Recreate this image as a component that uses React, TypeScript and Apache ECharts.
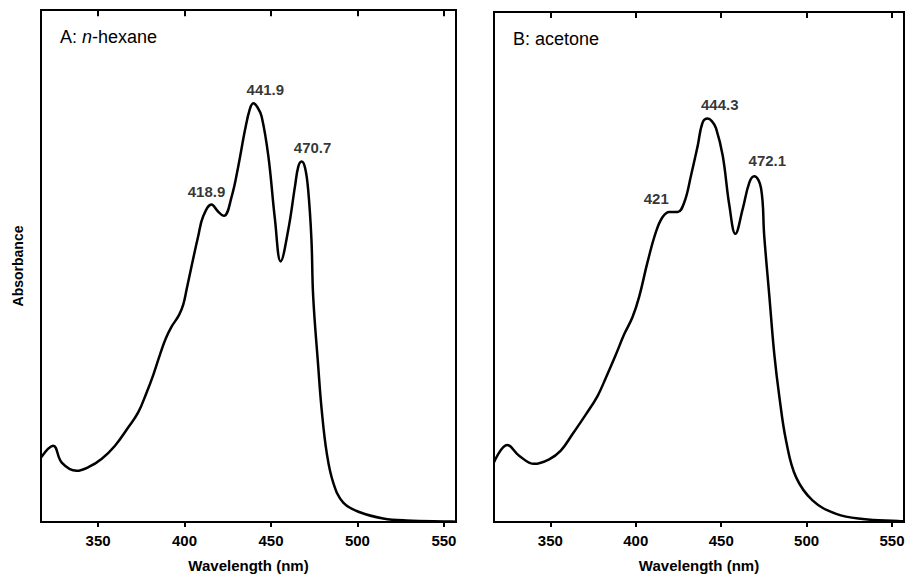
import React, { useEffect, useRef } from "react";
import * as echarts from "echarts";

// Panel A: n-hexane
const WL_A = [317, 324.1, 329, 337.6, 344.4, 352, 359.8, 367.5, 373.2, 378.1, 382, 385.8, 389.1, 392.6, 396.8, 399.3, 401.2, 404.1, 407.9, 410.8, 415.6, 419.5, 422.8, 427.3, 431.1, 435, 437.8, 439.8, 442, 444.6, 448.5, 452.3, 455.6, 460, 463.9, 465.8, 467.7, 469.7, 471.5, 473.4, 474.4, 477.3, 479.3, 482.2, 486, 491.8, 501.4, 514.9, 528.4, 554.4, 557];
const ABS_A = [0.126, 0.149, 0.116, 0.1, 0.107, 0.123, 0.149, 0.185, 0.214, 0.253, 0.288, 0.327, 0.358, 0.382, 0.404, 0.425, 0.454, 0.5, 0.558, 0.597, 0.62, 0.606, 0.598, 0.636, 0.695, 0.766, 0.807, 0.818, 0.811, 0.792, 0.714, 0.591, 0.509, 0.571, 0.656, 0.694, 0.704, 0.692, 0.649, 0.552, 0.441, 0.305, 0.22, 0.136, 0.077, 0.038, 0.019, 0.007, 0.003, 0.001, 0.0005];

// Panel B: acetone
const WL_B = [317, 324.8, 331.7, 340.5, 349.3, 356.1, 362.9, 370.8, 377.6, 382.5, 388.3, 393.2, 398.1, 402, 406.9, 411.8, 415.7, 419.6, 424.5, 428.4, 432.3, 436.2, 439.1, 442.1, 444.5, 447, 450.9, 454.8, 458.3, 462.6, 466.5, 469.4, 473.3, 475.2, 478.2, 481.1, 484.1, 488, 493.8, 503.6, 517.3, 532.9, 553.4, 557];
const ABS_B = [0.117, 0.151, 0.13, 0.114, 0.123, 0.14, 0.172, 0.211, 0.247, 0.283, 0.328, 0.368, 0.402, 0.442, 0.51, 0.569, 0.598, 0.608, 0.608, 0.627, 0.679, 0.737, 0.783, 0.791, 0.786, 0.772, 0.718, 0.62, 0.565, 0.614, 0.666, 0.678, 0.655, 0.56, 0.442, 0.328, 0.244, 0.159, 0.088, 0.042, 0.016, 0.006, 0.002, 0.0015];

// Peak annotations
const PEAK_A_TEXT = ["418.9", "441.9", "470.7"];
const PEAK_A_WL = [415.6, 439.8, 467.7];
const PEAK_A_ABS = [0.62, 0.818, 0.704];
const PEAK_B_TEXT = ["421", "444.3", "472.1"];
const PEAK_B_WL = [419.6, 442.1, 469.4];
const PEAK_B_ABS = [0.608, 0.791, 0.678];

const TICKS = [350, 400, 450, 500, 550];
const X_MIN = 317;
const X_MAX = 557;
const Y_MIN = 0;
const Y_MAX = 1;
const TOP_TICK_DEPTH = 0.012; // inward tick length, in axis units

// label pixel offsets (style)
const OFF_A = [[-5, -13], [12, -14], [11, -14]];
const OFF_B = [[-13, -13], [12, -14], [13, -16]];

const FONT = "'Liberation Sans', Arial, Helvetica, sans-serif";
const INK = "#000";

export default function App() {
  const ref = useRef<HTMLDivElement>(null);
  useEffect(() => {
    if (!ref.current) return;
    const chart = echarts.init(ref.current, undefined, { renderer: "svg" });

    const mkX = (gridIndex: number) => ({
      type: "value",
      gridIndex,
      position: "bottom",
      min: X_MIN,
      max: X_MAX,
      name: "Wavelength (nm)",
      nameLocation: "middle",
      nameGap: 36,
      nameTextStyle: { fontFamily: FONT, fontWeight: "bold", fontSize: 15, color: INK },
      axisLine: { show: true, onZero: false, lineStyle: { color: INK, width: 2 } },
      axisTick: { show: true, inside: false, length: 5, customValues: TICKS, lineStyle: { color: INK, width: 2 } },
      axisLabel: { show: true, customValues: TICKS, margin: 11, fontFamily: FONT, fontWeight: "bold", fontSize: 15, color: INK },
      splitLine: { show: false },
    });
    const mkY = (gridIndex: number, withName: boolean) => ({
      type: "value",
      gridIndex,
      position: "left",
      min: Y_MIN,
      max: Y_MAX,
      name: withName ? "Absorbance" : "",
      nameLocation: "middle",
      nameRotate: 90,
      nameGap: 16,
      nameTextStyle: { fontFamily: FONT, fontWeight: "bold", fontSize: 14, color: INK },
      axisLine: { show: true, onZero: false, lineStyle: { color: INK, width: 2 } },
      axisTick: { show: false },
      axisLabel: { show: false },
      splitLine: { show: false },
    });

    const lineSeries = (wl: number[], ab: number[], idx: number) => ({
      type: "line",
      xAxisIndex: idx,
      yAxisIndex: idx,
      data: wl.map((w, i) => [w, ab[i]]),
      showSymbol: false,
      smooth: 0.4,
      lineStyle: { color: INK, width: 2.5 },
      silent: true,
      markLine: {
        silent: true,
        symbol: ["none", "none"],
        label: { show: false },
        lineStyle: { color: INK, width: 2, type: "solid" },
        data: TICKS.map((t) => [
          { coord: [t, Y_MAX] },
          { coord: [t, Y_MAX - TOP_TICK_DEPTH] },
        ]),
      },
    });
    const peakSeries = (txt: string[], wl: number[], ab: number[], off: number[][], idx: number) => ({
      type: "scatter",
      xAxisIndex: idx,
      yAxisIndex: idx,
      symbolSize: 0,
      silent: true,
      data: txt.map((t, i) => ({
        value: [wl[i], ab[i]],
        name: t,
        label: {
          show: true,
          formatter: t,
          position: "inside",
          offset: off[i],
          align: "center",
          verticalAlign: "middle",
          fontFamily: FONT,
          fontWeight: "bold",
          fontSize: 15,
          color: INK,
        },
      })),
    });

    chart.setOption({
      animation: false,
      backgroundColor: "#fff",
      title: [
        {
          text: "{a|A: }{i|n}{a|-hexane}",
          left: 55,
          top: 23,
          textStyle: {
            fontWeight: "normal",
            rich: {
              a: { fontFamily: FONT, fontSize: 18, fontWeight: "normal", color: INK },
              i: { fontFamily: FONT, fontSize: 18, fontWeight: "normal", fontStyle: "italic", color: INK },
            },
          },
        },
        {
          text: "B: acetone",
          left: 508,
          top: 25,
          textStyle: { fontFamily: FONT, fontSize: 18, fontWeight: "normal", color: INK },
        },
      ],
      grid: [
        { left: 41, right: 452, top: 10, bottom: 55, show: true, borderColor: INK, borderWidth: 2, backgroundColor: "transparent" },
        { left: 494, right: 4, top: 12, bottom: 53, show: true, borderColor: INK, borderWidth: 2, backgroundColor: "transparent" },
      ],
      xAxis: [mkX(0), mkX(1)],
      yAxis: [mkY(0, true), mkY(1, false)],
      series: [
        lineSeries(WL_A, ABS_A, 0),
        lineSeries(WL_B, ABS_B, 1),
        peakSeries(PEAK_A_TEXT, PEAK_A_WL, PEAK_A_ABS, OFF_A, 0),
        peakSeries(PEAK_B_TEXT, PEAK_B_WL, PEAK_B_ABS, OFF_B, 1),
      ],
    });
    return () => chart.dispose();
  }, []);

  return (
    <div
      ref={ref}
      style={{ position: "absolute", left: 0, top: 0, width: 908, height: 578, background: "#fff" }}
    />
  );
}
